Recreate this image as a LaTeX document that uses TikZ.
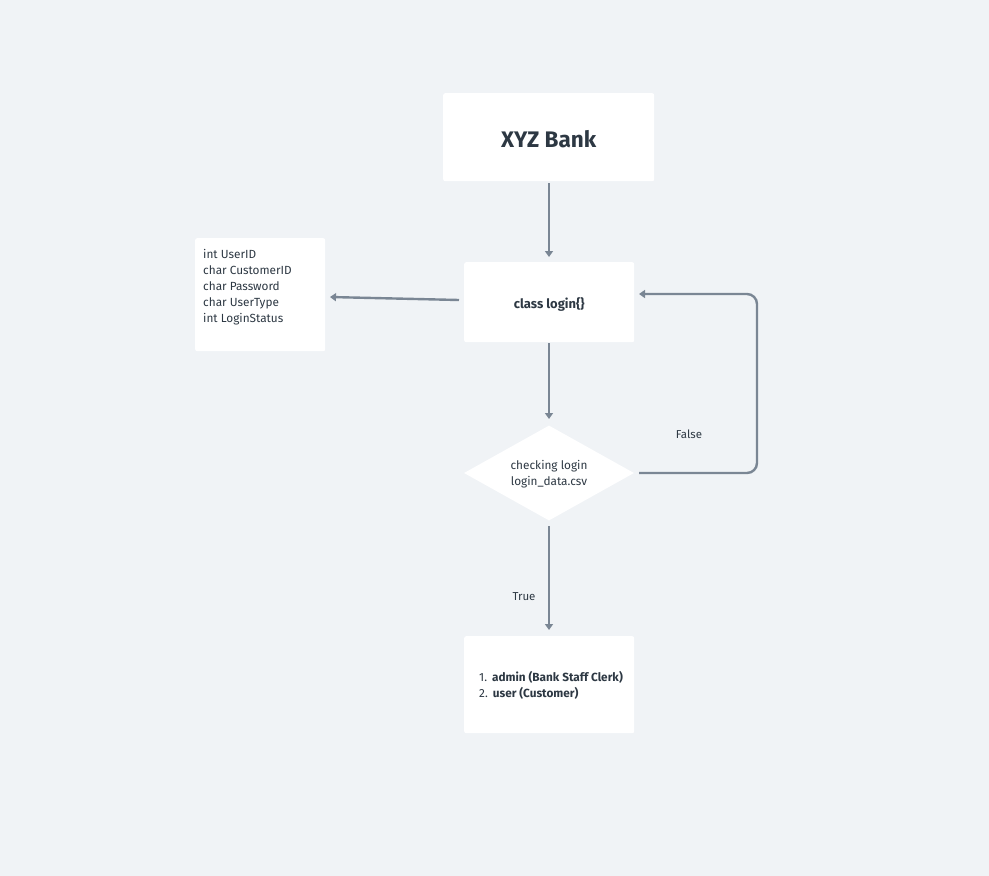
\documentclass[tikz,border=0pt]{standalone}
\usepackage{fontspec}
\setmainfont{Fira Sans}
\usetikzlibrary{shapes.geometric,arrows.meta}
\definecolor{bg}{HTML}{F0F3F6}
\definecolor{edge}{HTML}{7A8694}
\definecolor{ink}{HTML}{2D3843}
\tikzset{
  card/.style={fill=white, draw=none, rounded corners=2pt, inner sep=0pt, anchor=north west},
  conn/.style={draw=edge, line width=2.4pt, -{Triangle[length=6pt,width=8pt]}},
  lbl/.style={text=ink, font=\fontsize{11.5}{13}\selectfont}
}
\begin{document}
\begin{tikzpicture}[x=1pt,y=-1pt]
\fill[bg] (0,0) rectangle (989,876);
\useasboundingbox (0,0) rectangle (989,876);
% boxes
\node[card, minimum width=211pt, minimum height=88pt] (bank) at (443,93) {};
\node[text=ink, font=\fontsize{22.5}{26}\selectfont\bfseries] at ([yshift=-1.5pt]bank.center) {XYZ Bank};
\node[card, minimum width=170pt, minimum height=80pt] (login) at (464,262) {};
\node[text=ink, font=\fontsize{13}{15}\selectfont\bfseries] at ([yshift=-2.5pt]login.center) {class login\{\}};
\node[card, minimum width=130pt, minimum height=113pt] (attr) at (195,238) {};
\node[lbl, anchor=north west, align=left, inner sep=0pt, font=\fontsize{11.8}{16}\selectfont] (attrtext) at (203,249.5)
  {int UserID\\char CustomerID\\char Password\\char UserType\\int LoginStatus};
\node[diamond, fill=white, minimum width=170pt, minimum height=95pt, aspect=1.79, inner sep=0pt] (check) at (549,473) {};
\node[lbl, align=center, font=\fontsize{11.8}{16}\selectfont] at ([yshift=-1.5pt]check.center) {checking login\\login\_data.csv};
\node[card, minimum width=170pt, minimum height=97pt] (res) at (464,636) {};
\node[lbl, anchor=north west, align=left, inner sep=0pt, font=\fontsize{11.8}{16}\selectfont] at (479,671.5)
  {1.\hspace{5pt}\textbf{admin (Bank Staff Clerk)}\\2.\hspace{5pt}\textbf{user (Customer)}};
% connectors
\coordinate (a1) at (549,183);
\coordinate (a2) at (549,257);
\draw[conn] (a1) -- (a2);
\coordinate (b1) at (459,300);
\coordinate (b2) at (330,297);
\draw[conn] (b1) -- (b2);
\coordinate (c1) at (549,343);
\coordinate (c2) at (549,419);
\draw[conn] (c1) -- (c2);
\coordinate (d1) at (639,473);
\coordinate (d2) at (639,294);
\draw[conn, rounded corners=10pt] (d1) -- (757,473) -- (757,294) -- (d2);
\node[lbl] at (689,434) {False};
\coordinate (e1) at (549,526);
\coordinate (e2) at (549,630);
\draw[conn] (e1) -- (e2);
\node[lbl] at (524,597) {True};
\end{tikzpicture}
\end{document}
